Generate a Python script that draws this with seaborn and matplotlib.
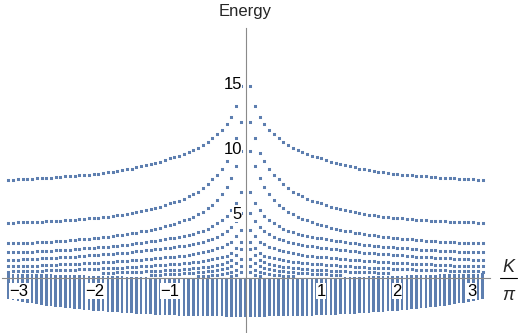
import numpy as np
import pandas as pd
import matplotlib
matplotlib.use("Agg")
import matplotlib.pyplot as plt
import seaborn as sns
from matplotlib.lines import Line2D
from matplotlib.ticker import FixedLocator

# momentum columns: K = 2*pi*n/100, only K >= 0 is stored (the spectrum is symmetric in K)
n_cols = list(range(51))

# continuum (dense band) for n = 0..50
band_low = [-2.97, -2.97, -2.97, -2.97, -2.97, -2.96, -2.96, -2.95, -2.95, -2.94,
            -2.93, -2.92, -2.91, -2.90, -2.89, -2.88, -2.86, -2.85, -2.83, -2.82,
            -2.80, -2.78, -2.76, -2.74, -2.72, -2.70, -2.67, -2.65, -2.62, -2.60,
            -2.57, -2.54, -2.51, -2.48, -2.44, -2.41, -2.37, -2.33, -2.29, -2.25,
            -2.21, -2.16, -2.12, -2.07, -2.02, -1.96, -1.91, -1.85, -1.79, -1.72,
            -1.64]
band_high = [-0.1, -0.1, -0.1, -0.1, -0.1, -0.1, -0.1, -0.1, -0.1, -0.1,
             -0.1, -0.1, -0.1, -0.1, -0.1, -0.08, -0.06, -0.04, -0.02, 0.0,
             0.02, 0.04, 0.06, 0.08, 0.1, 0.11, 0.12, 0.13, 0.14, 0.15,
             0.16, 0.17, 0.18, 0.19, 0.2, 0.21, 0.22, 0.23, 0.24, 0.25,
             0.26, 0.27, 0.28, 0.29, 0.3, 0.31, 0.32, 0.32, 0.33, 0.34,
             0.35]

# discrete levels above the band, values for n = 1, 2, 3, ...
level_1 = [14.8, 13.2, 12.4, 11.85, 11.4, 11.05, 10.75, 10.45, 10.2, 10.0,
           9.85, 9.7, 9.55, 9.4, 9.3, 9.2, 9.07, 8.95, 8.85, 8.75,
           8.66, 8.58, 8.5, 8.42, 8.35, 8.3, 8.24, 8.18, 8.13, 8.08,
           8.03, 7.99, 7.96, 7.93, 7.9, 7.87, 7.84, 7.81, 7.78, 7.76,
           7.73, 7.71, 7.69, 7.66, 7.64, 7.62, 7.6, 7.58, 7.56, 7.55]
level_2 = [12.0, 10.8, 9.6, 9.0, 8.4, 7.9, 7.6, 7.2, 6.9, 6.65,
           6.45, 6.3, 6.1, 5.95, 5.85, 5.75, 5.6, 5.48, 5.38, 5.28,
           5.2, 5.12, 5.05, 4.98, 4.93, 4.88, 4.83, 4.78, 4.73, 4.69,
           4.65, 4.61, 4.58, 4.55, 4.52, 4.49, 4.46, 4.43, 4.41, 4.39,
           4.37, 4.35, 4.33, 4.31, 4.3, 4.29, 4.28, 4.27, 4.26, 4.25]
level_3 = [9.8, 8.6, 7.7, 7.0, 6.5, 6.0, 5.65, 5.35, 5.1, 4.9,
           4.72, 4.57, 4.43, 4.3, 4.18, 4.08, 3.98, 3.88, 3.8, 3.72,
           3.65, 3.58, 3.5, 3.44, 3.38, 3.33, 3.28, 3.23, 3.19, 3.15,
           3.11, 3.07, 3.03, 3.0, 2.97, 2.93, 2.9, 2.87, 2.85, 2.82,
           2.8, 2.78, 2.76, 2.74, 2.72, 2.71, 2.7, 2.69, 2.68, 2.67]
level_4 = [6.6, 5.8, 5.2, 4.75, 4.45, 4.2, 3.98, 3.8, 3.65, 3.52,
           3.41, 3.32, 3.24, 3.17, 3.1, 3.04, 2.98, 2.92, 2.87, 2.82,
           2.77, 2.72, 2.67, 2.62, 2.57, 2.53, 2.49, 2.46, 2.42, 2.39,
           2.36, 2.33, 2.3, 2.27, 2.24, 2.21, 2.18, 2.16, 2.14, 2.12,
           2.1, 2.08, 2.06, 2.05, 2.03, 2.02, 2.01, 2.0, 1.99, 1.98]
level_5 = [5.0, 4.4, 3.95, 3.62, 3.38, 3.18, 3.02, 2.9, 2.79, 2.7,
           2.63, 2.56, 2.5, 2.44, 2.38, 2.34, 2.3, 2.26, 2.22, 2.18,
           2.14, 2.1, 2.06, 2.0, 1.95, 1.93, 1.9, 1.87, 1.85, 1.82,
           1.8, 1.77, 1.74, 1.71, 1.68, 1.65, 1.63, 1.61, 1.59, 1.57,
           1.55, 1.53, 1.51, 1.49, 1.47, 1.45, 1.44, 1.42, 1.41, 1.4]
level_6 = [3.7, 3.2, 2.8, 2.58, 2.42, 2.28, 2.16, 2.06, 1.98, 1.9,
           1.84, 1.78, 1.73, 1.68, 1.64, 1.61, 1.58, 1.55, 1.52, 1.49,
           1.46, 1.42, 1.39, 1.35, 1.31, 1.29, 1.27, 1.25, 1.23, 1.21,
           1.19, 1.17, 1.15, 1.13, 1.11, 1.08, 1.07, 1.05, 1.04, 1.02,
           1.01, 0.99, 0.98, 0.96, 0.95, 0.94, 0.93, 0.92, 0.91, 0.9]
level_7 = [2.8, 2.3, 1.9, 1.72, 1.6, 1.51, 1.43, 1.36, 1.3, 1.25,
           1.21, 1.17, 1.14, 1.11, 1.08, 1.05, 1.03, 1.0, 0.97, 0.95,
           0.92, 0.9, 0.87, 0.85, 0.82, 0.8, 0.79, 0.77, 0.76, 0.74,
           0.73, 0.71, 0.7, 0.68, 0.67, 0.65, 0.64, 0.63, 0.62, 0.61,
           0.6, 0.58, 0.57, 0.56, 0.55, 0.54, 0.53, 0.52, 0.51, 0.5]
level_8 = [2.2, 1.75, 1.4, 1.22, 1.1, 1.0, 0.93, 0.88, 0.84, 0.8,
           0.76, 0.72, 0.69, 0.65, 0.62, 0.6, 0.58, 0.56, 0.54, 0.53,
           0.51, 0.5, 0.48, 0.47, 0.45, 0.44, 0.43, 0.42, 0.41, 0.4]
level_9 = [1.5, 1.15, 0.9, 0.76, 0.67, 0.6, 0.55, 0.51, 0.48, 0.45,
           0.42, 0.39, 0.35, 0.32, 0.3, 0.28, 0.27, 0.26, 0.25, 0.24]
level_10 = [0.9, 0.62, 0.45, 0.36, 0.3, 0.25, 0.22, 0.19, 0.17, 0.15]
level_11 = [0.45, 0.25, 0.12]

levels = [level_1, level_2, level_3, level_4, level_5, level_6,
          level_7, level_8, level_9, level_10, level_11]

x_ticks = [-3, -2, -1, 1, 2, 3]
y_ticks = [5, 10, 15]

color = "#5E7FB0"
axis_gray = "#8a8a8a"

K = 2 * np.pi * np.array(n_cols) / 100

# band table, mirrored to negative K
band = pd.DataFrame({"K": K, "low": band_low, "high": band_high})
band = pd.concat([band.assign(K=-band["K"]).iloc[1:], band], ignore_index=True)

# dot table
rows = []
for lev in levels:
    for n, e in zip(n_cols[1:], lev):
        rows.append((K[n], e))
        rows.append((-K[n], e))
dots = pd.DataFrame(rows, columns=["K", "E"])

sns.set_style("white")
plt.rcParams["font.family"] = ["Liberation Sans", "DejaVu Sans"]

fig = plt.figure(figsize=(5.19, 3.33), dpi=100)
ax = fig.add_axes([2 / 519, 0, 488 / 519, 305 / 333])

ax.bar(band["K"], band["high"] - band["low"], bottom=band["low"],
       width=0.034, color=color, linewidth=0, zorder=1)
sns.scatterplot(data=dots, x="K", y="E", marker="s", s=4.8, color=color,
                linewidth=0, ax=ax, legend=False, zorder=1, snap=False)

ax.set_xlim(-3.225, 3.238)
ax.set_ylim(-4.23, 19.23)
ax.set_xlabel("")
ax.set_ylabel("")
ax.set_axisbelow(False)

for side in ["top", "right"]:
    ax.spines[side].set_visible(False)
for side in ["left", "bottom"]:
    ax.spines[side].set_position(("data", 0))
    ax.spines[side].set_color(axis_gray)
    ax.spines[side].set_linewidth(0.8)
    ax.spines[side].set_zorder(3)

ax.set_xticks(x_ticks)
ax.set_xticklabels([str(t).replace("-", "\u2212") for t in x_ticks])
ax.xaxis.set_minor_locator(FixedLocator(np.round(np.arange(-3.2, 3.21, 0.2), 2)))
ax.set_yticks(y_ticks)
ax.set_yticklabels([str(t) for t in y_ticks])
ax.yaxis.set_minor_locator(FixedLocator(np.arange(-4, 20, 1)))

ax.tick_params(axis="both", which="both", direction="in", color=axis_gray,
               labelsize=12, labelcolor="black", width=0.8)
ax.tick_params(axis="x", which="major", length=2.6, pad=4)
ax.tick_params(axis="x", which="minor", length=1.3)
ax.tick_params(axis="y", which="major", length=3.6, pad=2.5)
ax.tick_params(axis="y", which="minor", length=1.9)

for lbl in ax.get_xticklabels() + ax.get_yticklabels():
    lbl.set_bbox(dict(facecolor="white", edgecolor="none", pad=0.2))

fig.text(245.5 / 519, (333 - 16) / 333, "Energy", ha="center", va="baseline",
         fontsize=12)
fig.text(508.5 / 519, (333 - 272) / 333, "K", ha="center", va="baseline",
         fontsize=13, style="italic")
fig.text(508.5 / 519, (333 - 300) / 333, "\u03c0", ha="center", va="baseline",
         fontsize=13, style="italic")
fig.add_artist(Line2D([500 / 519, 517 / 519], [(333 - 278) / 333] * 2,
                      color="black", linewidth=0.8))

fig.savefig("out.png", dpi=100)
